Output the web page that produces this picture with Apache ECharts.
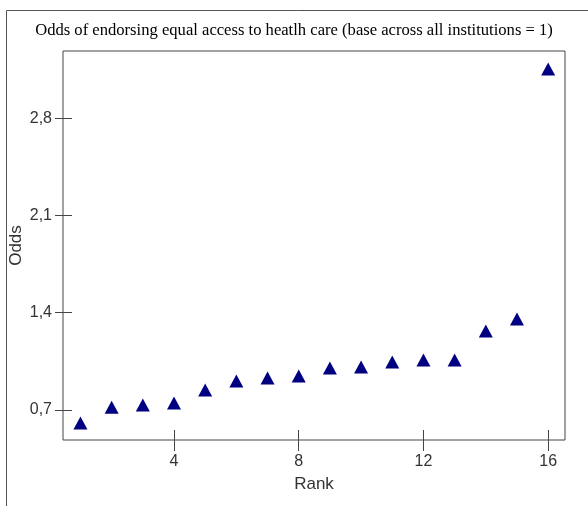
<!DOCTYPE html>
<html>
<head>
<meta charset="utf-8">
<script src="https://cdn.jsdelivr.net/npm/echarts@6/dist/echarts.min.js"></script>
<style>html,body{margin:0;padding:0;background:#fff;}#c{width:588px;height:506px;}</style>
</head>
<body>
<div id="c"></div>
<script>
const titleText = 'Odds of endorsing equal access to heatlh care (base across all institutions = 1)';
const ranks = [1,2,3,4,5,6,7,8,9,10,11,12,13,14,15,16];
const odds = [0.606,0.72,0.736,0.75,0.844,0.909,0.93,0.945,1.002,1.01,1.045,1.06,1.06,1.268,1.355,3.153];
const xTicks = [4,8,12,16];
const yTicks = [0.7,1.4,2.1,2.8];

const chart = echarts.init(document.getElementById('c'), null, {renderer:'canvas'});
const axisColor = '#444';
const labelFont = {color:'#333', fontFamily:'Liberation Sans, Arial, sans-serif', fontSize:16};
const xRange = {min:0.44, max:16.54};
const yRange = {min:0.484, max:3.283};
chart.setOption({
  animation:false,
  backgroundColor:'#fff',
  title:{
    text:titleText, left:'center', top:17,
    textStyle:{fontFamily:'Liberation Serif, Times New Roman, serif', fontWeight:'normal', fontSize:16.6, color:'#000'}
  },
  graphic:[{
    type:'rect', shape:{x:6.5, y:10.5, width:600, height:600},
    style:{fill:'none', stroke:'#555', lineWidth:1}, silent:true
  }],
  grid:{left:63, top:51, right:23, bottom:66, containLabel:false, outerBoundsMode:'none',
    show:true, borderColor:axisColor, borderWidth:1, backgroundColor:'transparent'},
  xAxis:{
    type:'value', ...xRange, offset:-10,
    name:'Rank', nameLocation:'middle', nameGap:46, nameMoveOverlap:false,
    nameTextStyle:{color:'#333', fontFamily:'Liberation Sans, Arial, sans-serif', fontSize:17},
    axisLine:{show:false, onZero:false},
    axisTick:{show:true, length:21, customValues:xTicks, lineStyle:{color:axisColor}},
    axisLabel:{show:true, customValues:xTicks, margin:24, ...labelFont},
    splitLine:{show:false}
  },
  yAxis:{
    type:'value', ...yRange, offset:-9,
    name:'Odds', nameLocation:'middle', nameGap:47, nameRotate:90, nameMoveOverlap:false,
    nameTextStyle:{color:'#333', fontFamily:'Liberation Sans, Arial, sans-serif', fontSize:17},
    axisLine:{show:false, onZero:false},
    axisTick:{show:true, length:17, customValues:yTicks, lineStyle:{color:axisColor}},
    axisLabel:{show:true, customValues:yTicks, margin:20, ...labelFont,
      formatter:v=>String(v).replace('.', ',')},
    splitLine:{show:false}
  },
  series:[{
    type:'scatter',
    symbol:'triangle', symbolSize:[14,13],
    itemStyle:{color:'#000080', opacity:1},
    data:ranks.map((r,i)=>[r, odds[i]])
  }]
});
</script>
</body>
</html>
